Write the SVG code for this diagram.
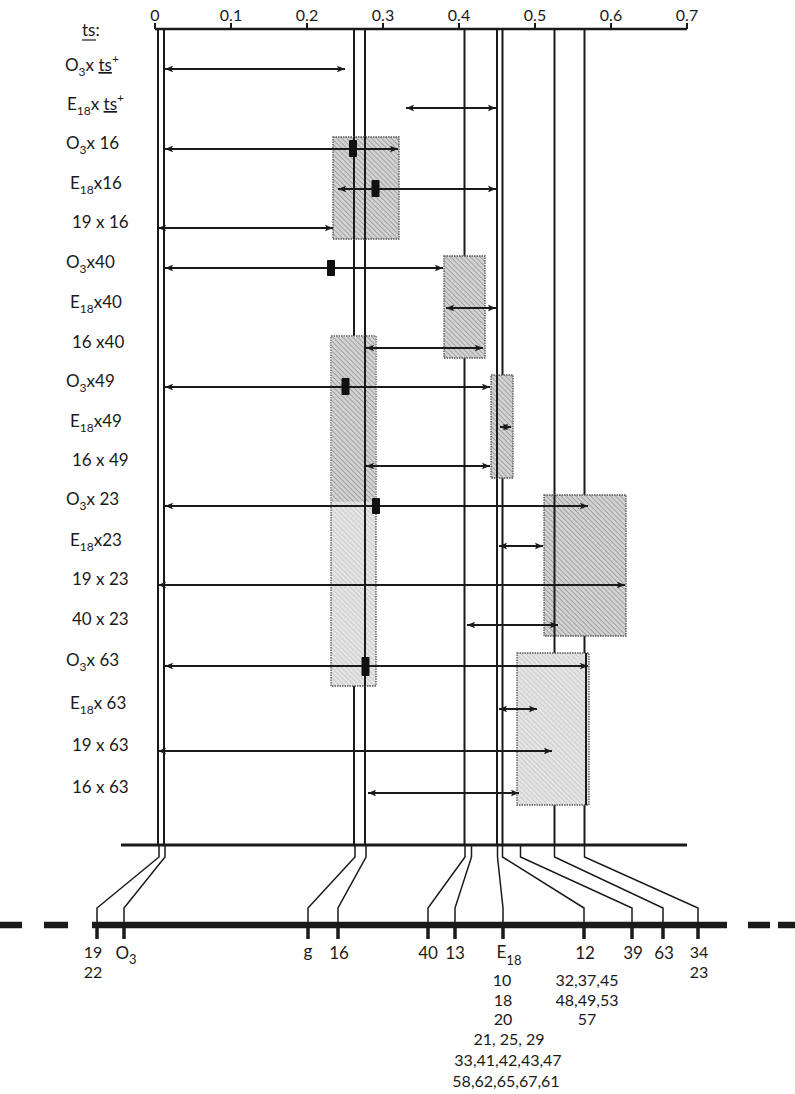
<svg xmlns="http://www.w3.org/2000/svg" width="795" height="1094" viewBox="0 0 795 1094">
<defs>
<style>
text{font-family:Lato,"Open Sans","Liberation Sans",sans-serif;fill:#1a1a1a}
.lbl{font-size:17px}
.ax{font-size:16px;text-anchor:middle}
.bl{font-size:17px;text-anchor:middle}
.bs{font-size:16px;text-anchor:middle}
.sub{font-size:12px}
.v{stroke:#1a1a1a;stroke-width:2;fill:none}
.c{stroke:#1a1a1a;stroke-width:1.5;fill:none}
.tick{stroke:#1a1a1a;stroke-width:3.5}
.arr{stroke:#1a1a1a;stroke-width:2;fill:none;marker-start:url(#ah);marker-end:url(#ah)}
.mk{fill:#111}
.bx{stroke:#555;stroke-width:1.3;stroke-dasharray:1.5 1}
.dk{fill:url(#hd)}
.lt{fill:url(#hl)}
</style>
<pattern id="hd" patternUnits="userSpaceOnUse" width="3.5" height="3.5" patternTransform="rotate(-45)">
<rect width="3.5" height="3.5" fill="#d2d2d2"/>
<line x1="0" y1="0" x2="0" y2="3.5" stroke="#858585" stroke-width="1.2"/>
</pattern>
<pattern id="hl" patternUnits="userSpaceOnUse" width="3.5" height="3.5" patternTransform="rotate(-45)">
<rect width="3.5" height="3.5" fill="#e4e4e4"/>
<line x1="0" y1="0" x2="0" y2="3.5" stroke="#b8b8b8" stroke-width="1"/>
</pattern>
<marker id="ah" markerUnits="userSpaceOnUse" markerWidth="9" markerHeight="8" refX="8" refY="4" orient="auto-start-reverse">
<path d="M0,0.8 L8,4 L0,7.2 L1.5,4 Z" fill="#1a1a1a"/>
</marker>
</defs>

<g id="axis">
<line x1="155" y1="29" x2="687" y2="29" stroke="#1a1a1a" stroke-width="2.5"/>
<path d="M155,23V29M231,23V29M307,23V29M383,23V29M459,23V29M535,23V29M611,23V29M687,23V29" stroke="#1a1a1a" stroke-width="2"/>
<text class="ax" x="155" y="21">0</text>
<text class="ax" x="231" y="21">0.1</text>
<text class="ax" x="307" y="21">0.2</text>
<text class="ax" x="383" y="21">0.3</text>
<text class="ax" x="459" y="21">0.4</text>
<text class="ax" x="535" y="21">0.5</text>
<text class="ax" x="611" y="21">0.6</text>
<text class="ax" x="687" y="21">0.7</text>
</g>

<g id="verticals">
<path class="v" d="M158,29V845M164,29V845M354,29V845M365,29V845M464.5,29V845M497,29V845M502.5,29V845M554.5,29V845M584.5,29V845"/>
<line x1="121" y1="845" x2="687" y2="845" stroke="#1a1a1a" stroke-width="3"/>
</g>

<g id="boxes">
<rect id="box-16a" class="bx dk" x="333" y="137" width="66" height="102"/>
<rect id="box-40" class="bx dk" x="444" y="256" width="41" height="102"/>
<rect id="box-49" class="bx dk" x="491" y="375" width="22" height="103"/>
<rect id="box-16b" class="bx lt" x="331" y="336" width="45" height="350"/>
<rect class="dk" x="331.7" y="336.7" width="43.6" height="165"/>
<rect id="box-23" class="bx dk" x="544" y="495" width="82" height="141"/>
<rect id="box-63" class="bx lt" x="517" y="653" width="72" height="152"/>
<path class="v" d="M354,137V239M365,137V239M365,336V686M497,375V478M554.5,495V636M586,653V805"/>
</g>

<g id="labels">
<text class="lbl" x="82" y="36">ts:</text>
<line x1="82" y1="40" x2="96" y2="40" stroke="#1a1a1a" stroke-width="1.2"/>
<text class="lbl" x="65" y="71">O<tspan class="sub" dy="5">3</tspan><tspan dy="-5">x </tspan><tspan text-decoration="underline">ts</tspan><tspan class="sub" dy="-8">+</tspan></text>
<text class="lbl" x="67" y="110">E<tspan class="sub" dy="5">18</tspan><tspan dy="-5">x </tspan><tspan text-decoration="underline">ts</tspan><tspan class="sub" dy="-8">+</tspan></text>
<text class="lbl" x="66" y="149">O<tspan class="sub" dy="5">3</tspan><tspan dy="-5">x 16</tspan></text>
<text class="lbl" x="70" y="189">E<tspan class="sub" dy="5">18</tspan><tspan dy="-5">x16</tspan></text>
<text class="lbl" x="72" y="228">19 x 16</text>
<text class="lbl" x="66" y="268">O<tspan class="sub" dy="5">3</tspan><tspan dy="-5">x40</tspan></text>
<text class="lbl" x="70" y="308">E<tspan class="sub" dy="5">18</tspan><tspan dy="-5">x40</tspan></text>
<text class="lbl" x="72" y="348">16 x40</text>
<text class="lbl" x="66" y="387">O<tspan class="sub" dy="5">3</tspan><tspan dy="-5">x49</tspan></text>
<text class="lbl" x="70" y="427">E<tspan class="sub" dy="5">18</tspan><tspan dy="-5">x49</tspan></text>
<text class="lbl" x="72" y="466">16 x 49</text>
<text class="lbl" x="66" y="505">O<tspan class="sub" dy="5">3</tspan><tspan dy="-5">x 23</tspan></text>
<text class="lbl" x="70" y="546">E<tspan class="sub" dy="5">18</tspan><tspan dy="-5">x23</tspan></text>
<text class="lbl" x="72" y="585">19 x 23</text>
<text class="lbl" x="72" y="625">40 x 23</text>
<text class="lbl" x="66" y="666">O<tspan class="sub" dy="5">3</tspan><tspan dy="-5">x 63</tspan></text>
<text class="lbl" x="70" y="709">E<tspan class="sub" dy="5">18</tspan><tspan dy="-5">x 63</tspan></text>
<text class="lbl" x="72" y="751">19 x 63</text>
<text class="lbl" x="72" y="793">16 x 63</text>
</g>

<g id="arrows">
<line class="arr" x1="165" y1="69" x2="345" y2="69"/>
<line class="arr" x1="406" y1="108" x2="496" y2="108"/>
<line class="arr" x1="165" y1="149" x2="398" y2="149"/>
<line class="arr" x1="338" y1="189" x2="496" y2="189"/>
<line class="arr" x1="158" y1="228" x2="333" y2="228"/>
<line class="arr" x1="165" y1="268" x2="443" y2="268"/>
<line class="arr" x1="446" y1="308" x2="496" y2="308"/>
<line class="arr" x1="366" y1="348" x2="483" y2="348"/>
<line class="arr" x1="165" y1="387" x2="490" y2="387"/>
<line class="arr" x1="500" y1="427" x2="511" y2="427"/>
<line class="arr" x1="366" y1="466" x2="490" y2="466"/>
<line class="arr" x1="165" y1="506" x2="588" y2="506"/>
<line class="arr" x1="499" y1="546" x2="543" y2="546"/>
<line class="arr" x1="158" y1="585" x2="625" y2="585"/>
<line class="arr" x1="467" y1="625" x2="558" y2="625"/>
<line class="arr" x1="165" y1="666" x2="588" y2="666"/>
<line class="arr" x1="499" y1="709" x2="537" y2="709"/>
<line class="arr" x1="158" y1="751" x2="552" y2="751"/>
<line class="arr" x1="368" y1="793" x2="519" y2="793"/>
<rect class="mk" x="349" y="140" width="8" height="17" rx="1"/>
<rect class="mk" x="371.5" y="180" width="8" height="17" rx="1"/>
<rect class="mk" x="327" y="260" width="8" height="16" rx="1"/>
<rect class="mk" x="341.5" y="378" width="8" height="17" rx="1"/>
<rect class="mk" x="372" y="498" width="8" height="16" rx="1"/>
<rect class="mk" x="361.5" y="657" width="8" height="19" rx="1"/>
</g>

<g id="connectors">
<path class="c" d="M159,845V857L97,908V922"/>
<path class="c" d="M165,845V857L124,908V922"/>
<path class="c" d="M355,845V857L308,908V922"/>
<path class="c" d="M366,845V857L338,908V922"/>
<path class="c" d="M465,845V857L428,908V922"/>
<path class="c" d="M471.5,845V857L455,908V922"/>
<path class="c" d="M497.5,845V857L503,908V922"/>
<path class="c" d="M502.5,845V857L584,908V922"/>
<path class="c" d="M520.5,845V857L632,908V922"/>
<path class="c" d="M554.5,845V857L663,908V922"/>
<path class="c" d="M584.5,845V857L698,908V922"/>
</g>

<g id="scale">
<line x1="92" y1="925" x2="727" y2="925" stroke="#1a1a1a" stroke-width="6.5"/>
<path d="M0,925H22M44,925H68M748,925H770M778,925H795" stroke="#1a1a1a" stroke-width="6.5"/>
<path class="tick" d="M97,925V939M124,925V939M308,925V939M338,925V939M428,925V939M455,925V939M503,925V939M584,925V939M632,925V939M663,925V939M698,925V939"/>
<text class="bs" x="93" y="958">19</text>
<text class="bs" x="93" y="978">22</text>
<text class="bl" x="126" y="959">O<tspan font-size="13" dy="5">3</tspan></text>
<text class="bl" x="308" y="957">g</text>
<text class="bl" x="339" y="959">16</text>
<text class="bl" x="428" y="959">40</text>
<text class="bl" x="455" y="959">13</text>
<text class="bl" x="509" y="958">E<tspan font-size="13" dy="7">18</tspan></text>
<text class="bs" x="502" y="986">10</text>
<text class="bs" x="503" y="1006">18</text>
<text class="bs" x="503" y="1025">20</text>
<text class="bs" x="509" y="1045">21, 25, 29</text>
<text class="bs" x="508" y="1066">33,41,42,43,47</text>
<text class="bs" x="506" y="1087">58,62,65,67,61</text>
<text class="bl" x="585" y="959">12</text>
<text class="bs" x="587" y="986">32,37,45</text>
<text class="bs" x="587" y="1006">48,49,53</text>
<text class="bs" x="587" y="1025">57</text>
<text class="bl" x="633" y="959">39</text>
<text class="bl" x="664" y="959">63</text>
<text class="bs" x="699" y="958">34</text>
<text class="bs" x="699" y="978">23</text>
</g>
</svg>
